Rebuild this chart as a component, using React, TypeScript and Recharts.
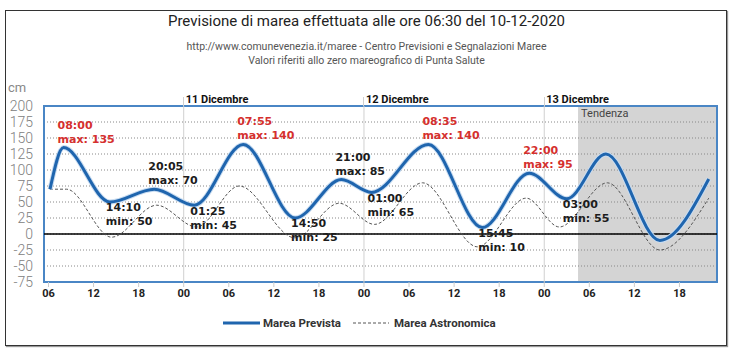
import { ComposedChart, Line, Scatter, XAxis, YAxis, CartesianGrid, ReferenceLine, ReferenceArea } from 'recharts'

// hours counted from 10-12-2020 00:00
const prevTimes = [6.2, 8, 14.17, 20.08, 25.42, 31.92, 38.83, 45, 49, 56.58, 63.75, 70, 75, 80.2, 87.4, 93.9]
const prevValues = [70, 135, 50, 70, 45, 140, 25, 85, 65, 140, 10, 95, 55, 125, -10, 86]

const astroTimes = [6.2, 8.4, 14.4, 20.4, 25.7, 31.4, 38.8, 44.7, 49.4, 55.8, 63.1, 69.6, 74, 80.4, 87.4, 93.9]
const astroValues = [70, 70, -5, 45, 11, 75, -6, 48, 15, 80, -20, 56, 11, 80, -25, 56]

// labelled highs / lows of the forecast
const extremeTimes = [8, 14.17, 20.08, 25.42, 31.92, 38.83, 45, 49, 56.58, 63.75, 70, 75]
const extremeClock = ['08:00', '14:10', '20:05', '01:25', '07:55', '14:50', '21:00', '01:00', '08:35', '15:45', '22:00', '03:00']
const extremeValues = [135, 50, 70, 45, 140, 25, 85, 65, 140, 10, 95, 55]
const extremeKinds = ['max', 'min', 'max', 'min', 'max', 'min', 'max', 'min', 'max', 'min', 'max', 'min']

const dayStarts = [24, 48, 72]
const dayLabels = ['11 Dicembre', '12 Dicembre', '13 Dicembre']
const hourTicks = [6, 12, 18, 24, 30, 36, 42, 48, 54, 60, 66, 72, 78, 84, 90]
const cmTicks = [-75, -50, -25, 0, 25, 50, 75, 100, 125, 150, 175, 200]
const tendenzaFrom = 76.5
const xMin = 5.4
const xMax = 95

const prevData = prevTimes.map((t, i) => ({ t, v: prevValues[i] }))
const astroData = astroTimes.map((t, i) => ({ t, v: astroValues[i] }))
const extremes = extremeTimes.map((t, i) => ({ t, v: extremeValues[i], time: extremeClock[i], kind: extremeKinds[i] }))

const ExtremeLabel = (props: any) => {
  const { cx, cy, payload } = props
  if (cx == null || cy == null) return null
  const isMax = payload.kind === 'max'
  const color = isMax && payload.v >= 90 ? '#d5302e' : '#1c1c1c'
  const x = cx + (isMax ? -6 : -4)
  const y = isMax ? cy - 23 : cy + 5.5
  const style = { fontSize: 11, fontWeight: 700, fontFamily: 'DejaVu Sans, sans-serif' }
  return (
    <g>
      <text x={x} y={y} dy="0.36em" fill={color} style={style}>{payload.time}</text>
      <text x={x} y={y + 14} dy="0.36em" fill={color} style={style}>{`${payload.kind}: ${payload.v}`}</text>
    </g>
  )
}

const dayLabel = (name: string) => (props: any) => {
  const vb = props.viewBox || {}
  const x = vb.x
  const y = vb.y
  return (
    <g>
      <line x1={x} x2={x} y1={y - 9} y2={y} stroke="#d0d0d0" strokeWidth={1} shapeRendering="crispEdges" />
      <text x={x + 2} y={y - 3} fill="#111" style={{ fontSize: 11, fontWeight: 700, fontFamily: 'Roboto, sans-serif' }}>{name}</text>
    </g>
  )
}

const fmtHour = (h: number) => String(h % 24).padStart(2, '0')

export default function App() {
  return (
    <div style={{ position: 'absolute', left: 0, top: 0, width: 733, height: 353, background: '#fff', fontFamily: 'Roboto, sans-serif' }}>
      <div style={{ position: 'absolute', left: 5, top: 10, width: 720, height: 334, border: '1px solid #333', boxShadow: '1px 1px 1px #999' }} />
      <div style={{ position: 'absolute', left: 0, width: 733, top: 12, textAlign: 'center', fontSize: 15, color: '#222' }}>
        Previsione di marea effettuata alle ore 06:30 del 10-12-2020
      </div>
      <div style={{ position: 'absolute', left: 0, width: 733, top: 40, textAlign: 'center', fontSize: 10.5, lineHeight: '14px', color: '#555' }}>
        http://www.comunevenezia.it/maree - Centro Previsioni e Segnalazioni Maree<br />
        Valori riferiti allo zero mareografico di Punta Salute
      </div>
      <div style={{ position: 'absolute', left: 8, top: 80, fontSize: 13, color: '#888' }}>cm</div>

      <div style={{ position: 'absolute', left: 0, top: 0 }}>
        <ComposedChart width={733} height={353} margin={{ top: 106, right: 16, bottom: 51, left: 8 }}>
          <ReferenceArea x1={tendenzaFrom} x2={xMax} y1={-75} y2={200} fill="#d4d4d4" fillOpacity={1} stroke="none" zIndex={-150}
            label={{ value: 'Tendenza', position: 'insideTopLeft', offset: 3, fill: '#444', fontSize: 11, fontFamily: 'Roboto, sans-serif' }} />
          <CartesianGrid vertical={false} stroke="#888" strokeDasharray="1 2" />
          {dayStarts.map((d, i) => (
            <ReferenceLine key={d} x={d} stroke="#d0d0d0" label={dayLabel(dayLabels[i])} />
          ))}
          <XAxis dataKey="t" type="number" domain={[xMin, xMax]} allowDataOverflow ticks={hourTicks} tickFormatter={fmtHour}
            height={20} axisLine={false} tickLine={{ stroke: '#cccccc' }} tickSize={5} tickMargin={2}
            tick={{ fontSize: 11, fontWeight: 700, fill: '#222', fontFamily: 'Roboto, sans-serif' }} interval={0} />
          <YAxis dataKey="v" type="number" domain={[-75, 200]} allowDataOverflow ticks={cmTicks} width={36}
            axisLine={false} tickLine={false} tickMargin={5}
            tick={{ fontSize: 14, fill: '#808080', fontFamily: 'Roboto, sans-serif', fontWeight: 300 }} interval={0} />
          <ReferenceLine y={0} stroke="#000" strokeWidth={1.5} />
          <ReferenceArea x1={xMin} x2={xMax} y1={-75} y2={200} fill="none" stroke="#4a86c5" strokeWidth={2} />
          <Line data={astroData} dataKey="v" type="monotone" stroke="#555" strokeWidth={1} strokeDasharray="3 2" dot={false} activeDot={false} isAnimationActive={false} />
          <Line data={prevData} dataKey="v" type="monotone" stroke="#c8dcf1" strokeWidth={5} dot={false} activeDot={false} isAnimationActive={false} />
          <Line data={prevData} dataKey="v" type="monotone" stroke="#1f65ae" strokeWidth={3} dot={false} activeDot={false} isAnimationActive={false} />
          <Scatter data={extremes} dataKey="v" shape={ExtremeLabel} isAnimationActive={false} />
        </ComposedChart>
      </div>

      <div style={{ position: 'absolute', top: 315, left: 223, display: 'flex', alignItems: 'center', fontSize: 11.5, fontWeight: 700, color: '#333', whiteSpace: 'nowrap' }}>
        <svg width={37} height={16}><line x1={0} x2={37} y1={8} y2={8} stroke="#1f65ae" strokeWidth={3} /></svg>
        <span style={{ marginLeft: 3 }}>Marea Prevista</span>
        <svg width={36} height={16} style={{ marginLeft: 12 }}><line x1={0} x2={36} y1={8} y2={8} stroke="#555" strokeWidth={1} strokeDasharray="3 2" /></svg>
        <span style={{ marginLeft: 5 }}>Marea Astronomica</span>
      </div>
    </div>
  )
}
